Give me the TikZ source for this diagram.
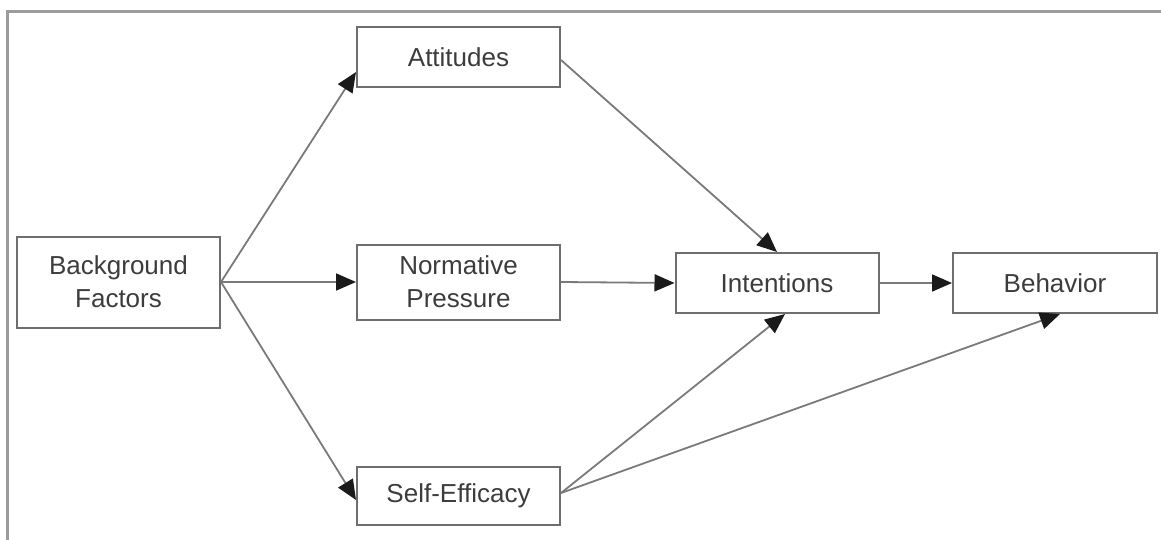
\documentclass[tikz,border=0pt]{standalone}
\usepackage{fontspec}
\setmainfont{Liberation Sans}
\usetikzlibrary{arrows.meta}
\definecolor{boxgray}{HTML}{6E6E6E}
\definecolor{linegray}{HTML}{7A7A7A}
\definecolor{textgray}{HTML}{3C3C3C}
\definecolor{framegray}{HTML}{9C9C9C}
\definecolor{tipblack}{HTML}{1A1A1A}
\begin{document}
\begin{tikzpicture}[x=1pt,y=-1pt,
  box/.style={draw=boxgray, line width=2pt, minimum width=203pt, inner sep=0pt,
    align=center, text=textgray, font=\fontsize{26}{33}\selectfont},
  conn/.style={draw=linegray, line width=1.8pt,
    -{Triangle[length=20pt,width=17pt,color=tipblack,fill=tipblack]}}]
\useasboundingbox (0,0) rectangle (1161,540);
\draw[framegray, line width=3pt] (7,540) -- (7,12) -- (1161,12);

\node[box, minimum height=91pt] (bf) at (118.5,282) {Background\\Factors};
\node[box, minimum height=60pt] (att) at (458.5,57) {Attitudes};
\node[box, minimum height=75pt] (np) at (458.5,282) {Normative\\Pressure};
\node[box, minimum height=58pt] (se) at (458.5,496) {Self-Efficacy};
\node[box, minimum height=60pt] (int) at (777,283) {Intentions};
\node[box, minimum height=60pt, minimum width=204pt] (beh) at (1055,283) {Behavior};

\draw[conn] (bf.east) -- ([yshift=-15pt]att.west);
\draw[conn] (bf.east) -- (np.west);
\draw[conn] (bf.east) -- ([yshift=-4pt]se.west);
\draw[conn] ([yshift=-3pt]att.east) -- (int.north);
\draw[conn] (np.east) -- (int.west);
\draw[conn] ([yshift=3pt]se.east) -- ([xshift=8pt]int.south);
\draw[conn] ([yshift=3pt]se.east) -- ([xshift=5pt]beh.south);
\draw[conn] (int.east) -- (beh.west);
\end{tikzpicture}
\end{document}
